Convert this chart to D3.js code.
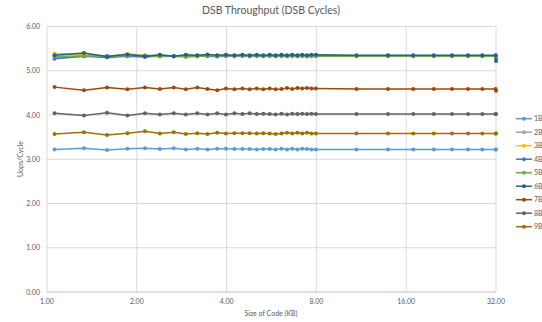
<!DOCTYPE html>
<html>
<head>
<meta charset="utf-8">
<script src="https://cdn.jsdelivr.net/npm/d3@7"></script>
<style>
  body { margin: 0; background: #fff; }
  text { font-family: Lato, "Open Sans", sans-serif; fill: #595959; }
</style>
</head>
<body>
<div id="chart"></div>
<script>
// Code sizes (KB)
let sizes = [1.06, 1.33, 1.59, 1.86, 2.13, 2.39, 2.66, 2.92, 3.19, 3.45, 3.72, 3.98, 4.25, 4.52,
    4.78, 5.05, 5.31, 5.58, 5.84, 6.11, 6.38, 6.64, 6.91, 7.17, 7.44, 7.70, 7.97,
    10.9, 13.9, 16.9, 19.8, 22.8, 25.8, 28.8, 31.9, 32.0];

let seriesNames = ["1B", "2B", "3B", "4B", "5B", "6B", "7B", "8B", "9B"];

let s1 = [3.22, 3.25, 3.21, 3.24, 3.25, 3.23, 3.25, 3.22, 3.24, 3.22, 3.24, 3.24, 3.23, 3.23,
    3.23, 3.22, 3.23, 3.23, 3.22, 3.24, 3.22, 3.24, 3.22, 3.24, 3.23, 3.22, 3.22,
    3.22, 3.22, 3.22, 3.22, 3.22, 3.22, 3.22, 3.22, 3.22];
let s2 = [5.29, 5.33, 5.33, 5.33, 5.32, 5.33, 5.32, 5.33, 5.33, 5.33, 5.32, 5.33, 5.33, 5.33,
    5.33, 5.33, 5.33, 5.33, 5.33, 5.33, 5.33, 5.33, 5.33, 5.33, 5.33, 5.33, 5.33,
    5.33, 5.33, 5.33, 5.33, 5.33, 5.33, 5.33, 5.33, 5.30];
let s3 = [5.39, 5.37, 5.33, 5.38, 5.34, 5.35, 5.33, 5.35, 5.34, 5.36, 5.34, 5.35, 5.34, 5.35,
    5.34, 5.35, 5.34, 5.35, 5.34, 5.35, 5.34, 5.35, 5.34, 5.35, 5.34, 5.35, 5.35,
    5.34, 5.34, 5.34, 5.34, 5.34, 5.34, 5.34, 5.34, 5.30];
let s4 = [5.27, 5.33, 5.30, 5.33, 5.31, 5.34, 5.33, 5.32, 5.34, 5.33, 5.32, 5.34, 5.33, 5.34,
    5.33, 5.34, 5.33, 5.34, 5.33, 5.34, 5.33, 5.34, 5.33, 5.34, 5.33, 5.34, 5.34,
    5.34, 5.34, 5.34, 5.34, 5.34, 5.34, 5.34, 5.34, 5.28];
let s5 = [5.32, 5.34, 5.33, 5.34, 5.35, 5.32, 5.34, 5.31, 5.32, 5.34, 5.33, 5.34, 5.33, 5.34,
    5.33, 5.34, 5.33, 5.34, 5.33, 5.34, 5.33, 5.34, 5.33, 5.34, 5.33, 5.33, 5.33,
    5.33, 5.33, 5.33, 5.33, 5.33, 5.33, 5.33, 5.33, 5.28];
let s6 = [5.35, 5.40, 5.32, 5.37, 5.33, 5.36, 5.33, 5.36, 5.35, 5.37, 5.35, 5.36, 5.35, 5.36,
    5.35, 5.36, 5.35, 5.36, 5.35, 5.36, 5.35, 5.36, 5.35, 5.36, 5.35, 5.36, 5.36,
    5.35, 5.35, 5.35, 5.35, 5.35, 5.35, 5.35, 5.35, 5.22];
let s7 = [4.63, 4.56, 4.62, 4.58, 4.62, 4.59, 4.62, 4.58, 4.62, 4.59, 4.56, 4.60, 4.58, 4.60,
    4.58, 4.60, 4.58, 4.60, 4.58, 4.59, 4.61, 4.59, 4.61, 4.60, 4.61, 4.60, 4.60,
    4.59, 4.59, 4.59, 4.59, 4.59, 4.59, 4.59, 4.59, 4.55];
let s8 = [4.04, 3.99, 4.05, 3.99, 4.04, 4.01, 4.04, 4.01, 4.04, 4.01, 4.04, 4.01, 4.04, 4.02,
    4.04, 4.02, 4.03, 4.02, 4.01, 4.03, 4.01, 4.03, 4.02, 4.03, 4.02, 4.03, 4.02,
    4.02, 4.02, 4.02, 4.02, 4.02, 4.02, 4.02, 4.02, 4.02];
let s9 = [3.57, 3.61, 3.55, 3.59, 3.63, 3.58, 3.61, 3.57, 3.59, 3.57, 3.60, 3.58, 3.59, 3.59,
    3.59, 3.58, 3.59, 3.58, 3.57, 3.58, 3.60, 3.58, 3.60, 3.58, 3.60, 3.58, 3.58,
    3.58, 3.58, 3.58, 3.58, 3.58, 3.58, 3.58, 3.58, 3.58];

let xTicks = [1, 2, 4, 8, 16, 32];
let yTicks = [0, 1, 2, 3, 4, 5, 6];

let colors = ["#5B9BD5", "#A5A5A5", "#FFC000", "#4472C4", "#70AD47", "#255E91", "#9E480E", "#636363", "#997300"];

let allSeries = [s1, s2, s3, s4, s5, s6, s7, s8, s9].map((vals, i) => ({
    name: seriesNames[i],
    color: colors[i],
    points: vals.map((v, j) => ({ x: sizes[j], y: v }))
}));

// svg size + plot box
let svgWidth = 542;
let svgHeight = 322;
let plot = { left: 47, right: 496, top: 26.5, bottom: 292 };

let svg = d3.select("#chart")
    .append("svg")
    .attr("width", svgWidth)
    .attr("height", svgHeight);

let x = d3.scaleLog().base(2)
    .domain([1, 32])
    .range([plot.left, plot.right]);

let y = d3.scaleLinear()
    .domain([0, 6])
    .range([plot.bottom, plot.top]);

// gridlines
svg.append("g")
    .selectAll("line.h")
    .data(yTicks.filter(d => d > 0))
    .enter()
    .append("line")
    .attr("x1", plot.left)
    .attr("x2", plot.right)
    .attr("y1", d => y(d))
    .attr("y2", d => y(d))
    .attr("stroke", "#d9d9d9")
    .attr("stroke-width", 1);

svg.append("g")
    .selectAll("line.v")
    .data(xTicks)
    .enter()
    .append("line")
    .attr("x1", d => x(d))
    .attr("x2", d => x(d))
    .attr("y1", plot.top)
    .attr("y2", plot.bottom)
    .attr("stroke", "#d9d9d9")
    .attr("stroke-width", 1);

// bottom axis line
svg.append("line")
    .attr("x1", plot.left)
    .attr("x2", plot.right)
    .attr("y1", plot.bottom)
    .attr("y2", plot.bottom)
    .attr("stroke", "#bfbfbf")
    .attr("stroke-width", 1);

// tick labels
svg.append("g")
    .selectAll("text")
    .data(yTicks)
    .enter()
    .append("text")
    .attr("x", 40)
    .attr("y", d => y(d) + 2.5)
    .attr("text-anchor", "end")
    .style("font-size", "7px")
    .text(d => d3.format(".2f")(d));

svg.append("g")
    .selectAll("text")
    .data(xTicks)
    .enter()
    .append("text")
    .attr("x", d => x(d))
    .attr("y", 304)
    .attr("text-anchor", "middle")
    .style("font-size", "7px")
    .text(d => d3.format(".2f")(d));

// titles
svg.append("text")
    .attr("x", 271)
    .attr("y", 14)
    .attr("text-anchor", "middle")
    .style("font-size", "10.5px")
    .text("DSB Throughput (DSB Cycles)");

svg.append("text")
    .attr("x", 271)
    .attr("y", 316)
    .attr("text-anchor", "middle")
    .style("font-size", "7px")
    .text("Size of Code (KB)");

svg.append("text")
    .attr("transform", "translate(23, 159) rotate(-90)")
    .attr("text-anchor", "middle")
    .style("font-size", "7px")
    .text("Uops/Cycle");

// series lines + markers
let line = d3.line()
    .x(d => x(d.x))
    .y(d => y(d.y));

let seriesGroup = svg.selectAll("g.series")
    .data(allSeries)
    .enter()
    .append("g")
    .attr("class", "series");

seriesGroup.append("path")
    .attr("d", d => line(d.points))
    .attr("fill", "none")
    .attr("stroke", d => d.color)
    .attr("stroke-width", 1.5);

seriesGroup.each(function(s) {
    d3.select(this).selectAll("circle")
        .data(s.points)
        .enter()
        .append("circle")
        .attr("cx", d => x(d.x))
        .attr("cy", d => y(d.y))
        .attr("r", 2)
        .attr("fill", s.color);
});

// legend
let legend = svg.selectAll("g.legend")
    .data(allSeries)
    .enter()
    .append("g")
    .attr("class", "legend")
    .attr("transform", (d, i) => `translate(516, ${118.7 + i * 13.5})`);

legend.append("line")
    .attr("x1", 0)
    .attr("x2", 16)
    .attr("stroke", d => d.color)
    .attr("stroke-width", 1.5);

legend.append("circle")
    .attr("cx", 8)
    .attr("r", 2)
    .attr("fill", d => d.color);

legend.append("text")
    .attr("x", 18)
    .attr("y", 2.5)
    .style("font-size", "7px")
    .text(d => d.name);
</script>
</body>
</html>
